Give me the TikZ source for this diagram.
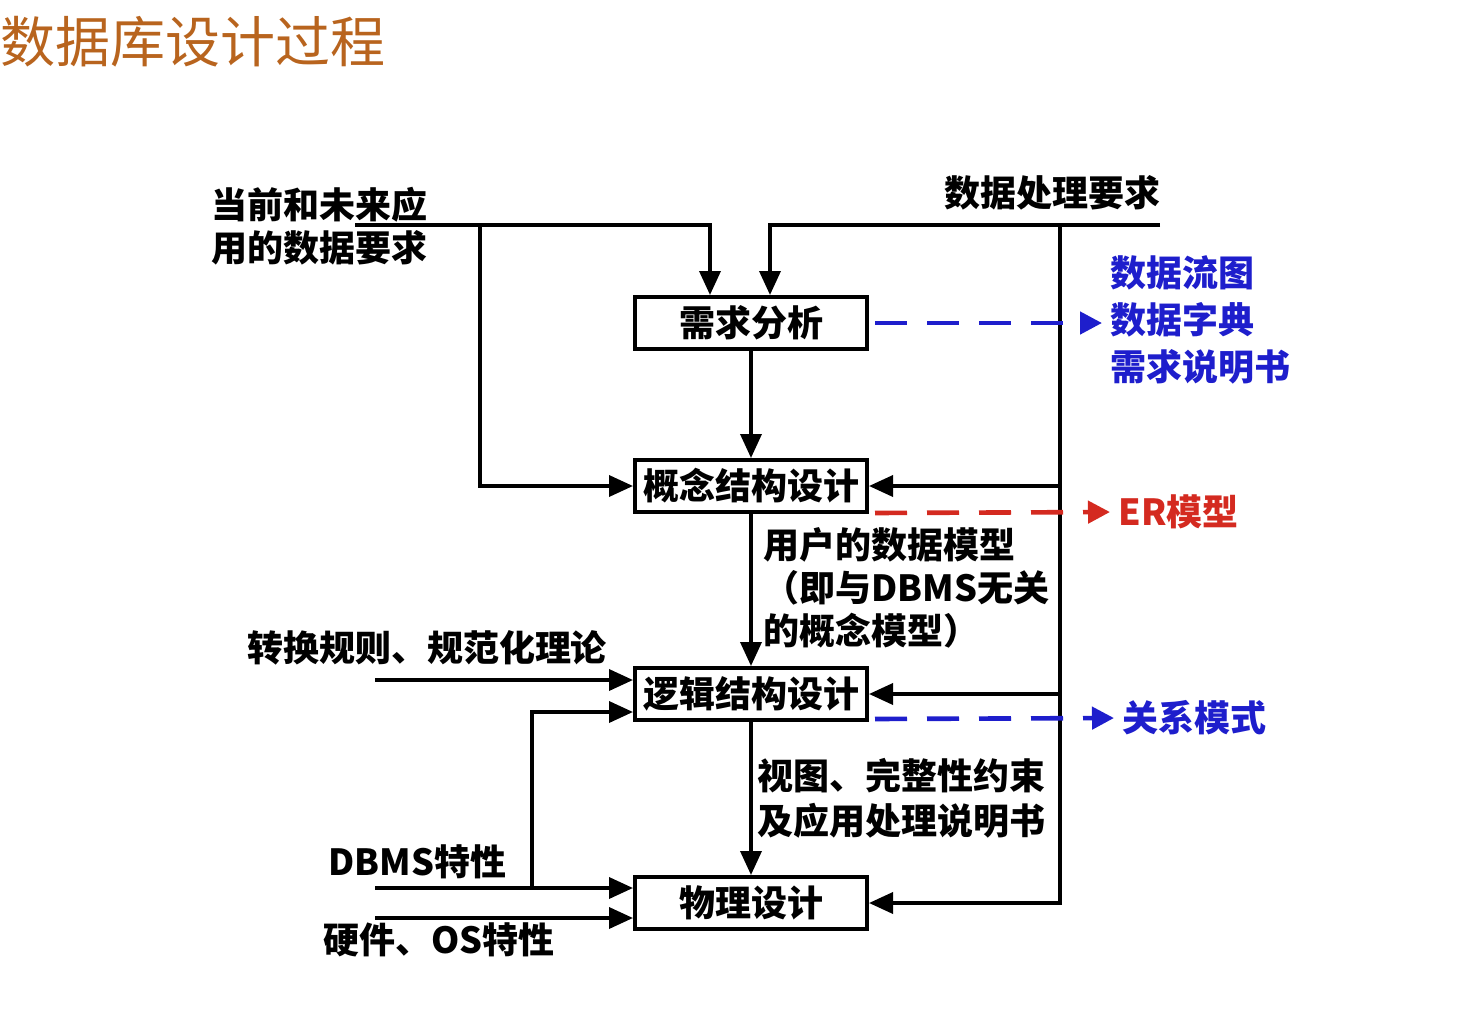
\documentclass[tikz,border=0pt]{standalone}
\usepackage{fontspec}
\setmainfont{Noto Sans CJK SC}
\usetikzlibrary{arrows.meta,positioning,calc}
\definecolor{titlebrown}{HTML}{B8641E}
\definecolor{myblue}{HTML}{1E1ECC}
\definecolor{myred}{HTML}{D42A20}
\tikzset{
  stagebox/.style={draw, line width=2pt, minimum width=116pt, minimum height=26pt, inner sep=0pt,
                   font=\fontsize{18}{20}\selectfont\bfseries},
  lab/.style={font=\fontsize{18}{21.5}\selectfont\bfseries, align=left, inner sep=0pt},
  arr/.style={-{Triangle[length=12pt,width=10.5pt]}, line width=1.8pt},
  wire/.style={line width=1.8pt},
  dasharr/.style={-{Triangle[length=11pt,width=11pt]}, line width=2.3pt, dash pattern=on 16pt off 10pt,
                  shorten >=4pt},
}
\begin{document}
\begin{tikzpicture}[x=0.5pt,y=-0.5pt]
  \useasboundingbox (0,0) rectangle (1464,1013);
  \node[font=\fontsize{27.5}{30}\selectfont, text=titlebrown, anchor=west, inner sep=0pt] (title) at (0,42) {数据库设计过程};
  % stages
  \node[stagebox] (req) at (751,323) {需求分析};
  \node[stagebox] (concept) at (751,486) {概念结构设计};
  \node[stagebox] (logic) at (751,694) {逻辑结构设计};
  \node[stagebox] (phys) at (751,903) {物理设计};
  % inputs
  \node[lab, anchor=west] (appreq) at (211,226) {当前和未来应\\用的数据要求};
  \node[lab] (procreq) at (1052,193) {数据处理要求};
  \node[lab] (rules) at (427,648) {转换规则、规范化理论};
  \node[lab, anchor=west] (dbms) at (328,862) {DBMS特性};
  \node[lab, anchor=west] (hw) at (323,940) {硬件、OS特性};
  % outputs
  \node[lab, text=myblue, anchor=west, font=\fontsize{18}{23.5}\selectfont\bfseries] (reqout) at (1110,320) {数据流图\\数据字典\\需求说明书};
  \node[lab, text=myred, anchor=west] (erout) at (1118,512) {ER模型};
  \node[lab, text=myblue, anchor=west] (relout) at (1122,718) {关系模式};
  \node[lab, anchor=west] (usermodel) at (763,588) {用户的数据模型\\（即与DBMS无关\\的概念模型）};
  \node[lab, anchor=west, font=\fontsize{18}{22.5}\selectfont\bfseries] (views) at (757,798) {视图、完整性约束\\及应用处理说明书};
  \coordinate (appin) at (355,225);
  \coordinate (appsplit) at (480,225);
  \coordinate (procin) at (1160,225);
  \coordinate (procsplit) at (1060,225);
  \coordinate (rulein) at (375,680);
  \coordinate (dbmsin) at (375,888);
  \coordinate (dbmssplit) at (532,888);
  \coordinate (hwin) at (375,918);
  % connectors
  \draw[arr] (appin) -| ($(req.north)+(-41,0)$);
  \draw[arr] (procin) -| ($(req.north)+(19,0)$);
  \draw[arr] (appsplit) |- (concept.west);
  \draw[arr] (procsplit) |- (concept.east);
  \draw[arr] (procsplit) |- (logic.east);
  \draw[arr] (procsplit) |- (phys.east);
  \draw[arr] (req) -- (concept);
  \draw[arr] (concept) -- (logic);
  \draw[arr] (logic) -- (phys);
  \draw[arr] (rulein) -- (rulein -| logic.west);
  \draw[arr] (dbmssplit) |- ($(logic.west)+(0,18)$);
  \draw[arr] (dbmsin) -- (dbmsin -| phys.west);
  \draw[arr] (hwin) -- (hwin -| phys.west);
  \draw[dasharr, myblue] ($(req.east)+(6,0)$) -- (req.east -| reqout.west);
  \draw[dasharr, myred] ($(concept.south east)+(6,-1)$) -- (erout.west);
  \draw[dasharr, myblue] ($(logic.south east)+(6,-3)$) -- (relout.west);
\end{tikzpicture}
\end{document}
